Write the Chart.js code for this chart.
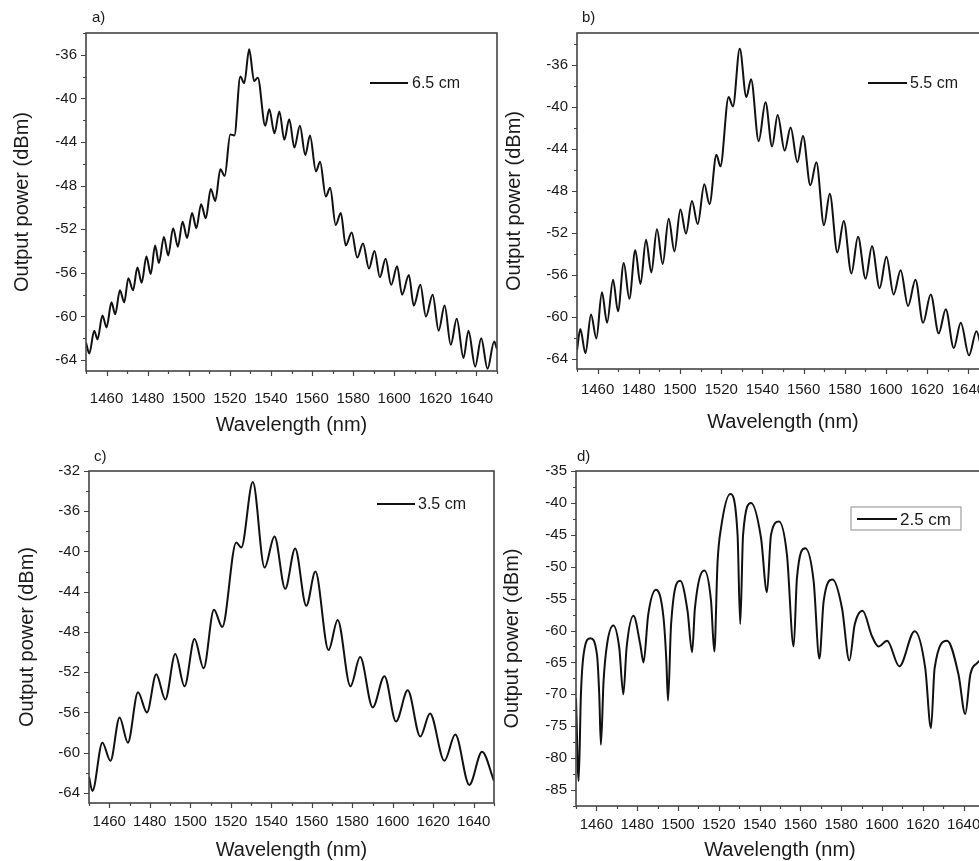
<!DOCTYPE html>
<html>
<head>
<meta charset="utf-8">
<script src="https://cdn.jsdelivr.net/npm/chart.js@4.4.1/dist/chart.umd.min.js"></script>
<style>
  html, body { margin: 0; padding: 0; background: #fff; overflow: hidden; width: 979px; height: 861px; }
  canvas { position: absolute; left: 0; top: 0; }
</style>
</head>
<body>
<canvas id="panelA" width="1000" height="861"></canvas>
<canvas id="panelB" width="1000" height="861"></canvas>
<canvas id="panelC" width="1000" height="861"></canvas>
<canvas id="panelD" width="1000" height="861"></canvas>
<script>
// wavelength (nm) / output power (dBm)
var wlA = [1450.0, 1451.6, 1454.0, 1455.6, 1458.0, 1460.0, 1462.4, 1464.2, 1466.5, 1468.6, 1470.6, 1472.9,
    1475.0, 1477.1, 1479.4, 1481.5, 1483.6, 1485.5, 1487.9, 1490.0, 1492.4, 1494.7, 1497.0, 1499.2,
    1501.6, 1503.7, 1506.0, 1508.3, 1510.7, 1512.9, 1515.4, 1517.5, 1520.2, 1522.2, 1525.1, 1527.0,
    1529.4, 1531.8, 1533.6, 1537.2, 1539.2, 1541.7, 1544.1, 1546.5, 1548.9, 1551.4, 1554.1, 1556.7,
    1559.0, 1561.9, 1563.9, 1566.7, 1568.8, 1571.5, 1574.0, 1576.4, 1579.3, 1582.0, 1584.8, 1587.7,
    1590.4, 1593.0, 1595.8, 1598.5, 1601.4, 1603.8, 1607.1, 1609.5, 1612.7, 1615.4, 1618.7, 1621.6,
    1624.5, 1627.5, 1630.4, 1633.7, 1636.1, 1639.4, 1642.3, 1645.4, 1648.6, 1650.0];
var powA = [-62.4, -63.4, -61.3, -62.1, -59.9, -61.0, -58.7, -59.8, -57.6, -58.7, -56.5, -57.6,
    -55.5, -56.9, -54.5, -56.1, -53.5, -55.1, -52.7, -54.4, -51.9, -53.6, -51.3, -52.8,
    -50.5, -51.9, -49.7, -51.0, -48.3, -49.4, -46.5, -47.1, -43.3, -43.4, -38.0, -38.6,
    -35.5, -38.4, -38.1, -42.5, -41.0, -43.2, -41.2, -43.8, -41.9, -44.5, -42.5, -45.2,
    -43.4, -46.7, -45.8, -49.0, -48.2, -51.6, -50.5, -53.5, -52.3, -54.6, -53.3, -55.6,
    -54.0, -56.4, -54.7, -57.1, -55.4, -58.0, -56.2, -59.0, -57.1, -60.0, -58.0, -61.3,
    -59.0, -62.6, -60.2, -63.8, -61.3, -64.6, -62.0, -64.8, -62.3, -63.0];

var wlB = [1450.0, 1451.6, 1454.1, 1456.8, 1459.4, 1462.1, 1464.6, 1467.5, 1469.9, 1472.7, 1475.4, 1478.3,
    1480.8, 1483.5, 1486.1, 1488.8, 1491.6, 1494.5, 1497.3, 1500.2, 1502.9, 1505.8, 1508.6, 1511.8,
    1514.3, 1517.7, 1519.6, 1523.6, 1525.7, 1529.0, 1532.2, 1534.5, 1538.2, 1541.5, 1544.7, 1547.4,
    1550.8, 1553.7, 1557.0, 1559.7, 1563.3, 1566.2, 1569.9, 1572.7, 1576.4, 1579.5, 1583.2, 1586.4,
    1590.1, 1593.2, 1596.9, 1600.2, 1603.7, 1607.1, 1610.7, 1614.3, 1618.0, 1621.7, 1625.6, 1629.0,
    1632.9, 1636.3, 1640.3, 1643.9, 1647.5, 1650.0];
var powB = [-63.2, -61.2, -63.5, -59.8, -62.1, -57.7, -60.6, -56.5, -59.5, -54.9, -58.3, -53.7,
    -56.9, -52.7, -55.8, -51.7, -55.0, -50.7, -53.8, -49.8, -52.1, -49.0, -51.2, -47.4,
    -49.3, -44.6, -45.7, -39.1, -40.0, -34.5, -39.1, -37.4, -43.3, -39.6, -43.8, -40.8,
    -44.2, -42.0, -45.3, -42.8, -47.5, -45.3, -51.3, -48.3, -53.9, -50.9, -55.9, -52.4,
    -56.4, -53.3, -57.3, -54.3, -57.9, -55.6, -59.0, -56.5, -60.6, -57.9, -61.6, -59.3,
    -63.0, -60.6, -63.7, -61.4, -63.6, -62.5];

var wlC = [1450.0, 1451.7, 1456.6, 1460.6, 1465.1, 1469.2, 1474.2, 1478.6, 1483.2, 1487.7, 1492.6, 1497.2,
    1502.1, 1506.6, 1511.7, 1515.8, 1522.7, 1525.2, 1530.9, 1536.7, 1541.6, 1546.9, 1551.8, 1557.3,
    1561.8, 1568.3, 1572.8, 1579.1, 1583.9, 1590.1, 1595.9, 1601.6, 1607.4, 1613.6, 1618.4, 1625.5,
    1630.9, 1637.8, 1644.1, 1650.0];
var powC = [-62.4, -63.8, -59.0, -60.8, -56.5, -59.0, -54.0, -56.0, -52.2, -54.7, -50.2, -53.4,
    -48.7, -51.6, -45.8, -47.5, -39.1, -39.6, -33.1, -41.6, -38.5, -43.7, -39.7, -45.4,
    -42.0, -49.8, -46.8, -53.4, -50.5, -55.5, -52.4, -56.9, -53.8, -58.4, -56.1, -60.8,
    -58.2, -63.2, -59.9, -62.8];

var wlD = [1450.0, 1451.3, 1452.4, 1453.7, 1457.0, 1460.3, 1461.4, 1462.2, 1463.5, 1465.2, 1468.3, 1471.2,
    1473.2, 1474.8, 1478.2, 1481.5, 1483.1, 1485.4, 1489.2, 1492.9, 1494.3, 1495.1, 1496.6, 1501.1,
    1504.7, 1506.9, 1508.3, 1512.9, 1516.2, 1517.8, 1519.4, 1521.1, 1525.6, 1529.2, 1530.5, 1531.9,
    1535.8, 1540.7, 1543.6, 1545.6, 1549.5, 1553.4, 1556.7, 1558.3, 1562.4, 1566.5, 1569.3, 1571.4,
    1575.8, 1580.4, 1584.0, 1586.6, 1590.5, 1595.1, 1598.3, 1602.5, 1608.5, 1616.0, 1621.2, 1624.0,
    1625.8, 1631.9, 1637.5, 1640.8, 1643.3, 1646.6, 1650.0];
var powD = [-70.6, -83.6, -70.1, -63.8, -61.2, -63.8, -70.1, -77.9, -68.0, -62.2, -59.2, -62.7,
    -70.0, -62.7, -57.7, -62.2, -65.0, -57.5, -53.6, -58.0, -64.8, -71.0, -59.1, -52.2,
    -57.0, -63.4, -56.5, -50.6, -55.4, -63.3, -49.2, -43.9, -38.6, -45.0, -59.0, -45.0,
    -40.0, -45.5, -54.0, -45.0, -42.9, -48.1, -62.5, -51.8, -47.1, -52.3, -64.4, -55.4,
    -52.0, -56.5, -64.7, -59.1, -56.9, -60.9, -62.5, -61.6, -65.6, -60.1, -65.9, -75.3,
    -65.9, -61.6, -66.9, -73.1, -66.9, -65.1, -64.3];

// tick labels
var xLabels = [1460, 1480, 1500, 1520, 1540, 1560, 1580, 1600, 1620, 1640];
var yLabelsA = [-64, -60, -56, -52, -48, -44, -40, -36];
var yLabelsB = [-64, -60, -56, -52, -48, -44, -40, -36];
var yLabelsC = [-64, -60, -56, -52, -48, -44, -40, -36, -32];
var yLabelsD = [-85, -80, -75, -70, -65, -60, -55, -50, -45, -40, -35];

var CW = 1000, CH = 861;
var FONT = "'Liberation Sans', Arial, Helvetica, sans-serif";
var INK = '#1a1a1a';

function stepTicks(min, max, step) {
    var out = [];
    var v = Math.ceil(min / step - 1e-9) * step;
    for (; v <= max + 1e-9; v += step) out.push({ value: Math.round(v * 100) / 100 });
    return out;
}
function inList(v, list) {
    for (var i = 0; i < list.length; i++) if (Math.abs(list[i] - v) < 1e-6) return true;
    return false;
}

// frame, tick marks, legend and panel letter
var decor = {
    id: 'decor',
    afterDraw: function(chart, args, o) {
        var ctx = chart.ctx, a = chart.chartArea;
        var xs = chart.scales.x, ys = chart.scales.y;
        ctx.save();
        ctx.strokeStyle = '#444';
        ctx.lineWidth = 1.6;
        ctx.strokeRect(a.left, a.top, a.right - a.left, a.bottom - a.top);

        ctx.lineWidth = 1.2;
        ctx.beginPath();
        xs.ticks.forEach(function(t) {
            var px = Math.round(xs.getPixelForValue(t.value)) + 0.5;
            var len = inList(t.value, o.xMajor) ? 5 : 3;
            ctx.moveTo(px, a.bottom); ctx.lineTo(px, a.bottom + len);
        });
        ys.ticks.forEach(function(t) {
            var py = Math.round(ys.getPixelForValue(t.value)) + 0.5;
            var len = inList(t.value, o.yMajor) ? 5 : 3;
            ctx.moveTo(a.left, py); ctx.lineTo(a.left - len, py);
        });
        ctx.stroke();

        var lg = o.legend;
        if (lg.box) {
            ctx.fillStyle = '#fff';
            ctx.fillRect(lg.box[0], lg.box[1], lg.box[2], lg.box[3]);
            ctx.strokeStyle = '#a0a0a0';
            ctx.lineWidth = 1.2;
            ctx.strokeRect(lg.box[0], lg.box[1], lg.box[2], lg.box[3]);
        }
        var ds = chart.data.datasets[0];
        ctx.strokeStyle = ds.borderColor;
        ctx.lineWidth = 2;
        ctx.beginPath();
        ctx.moveTo(lg.x1, lg.y); ctx.lineTo(lg.x2, lg.y);
        ctx.stroke();
        ctx.fillStyle = INK;
        ctx.font = lg.size + 'px ' + FONT;
        ctx.textAlign = 'left';
        ctx.textBaseline = 'middle';
        ctx.fillText(ds.label, lg.tx, lg.y + 1);

        ctx.font = '15px ' + FONT;
        ctx.fillText(o.letter, o.letterX, o.letterY);
        ctx.restore();
    }
};

var panels = [
    { id: 'panelA', letter: 'a)', label: '6.5 cm', wl: wlA, pw: powA, yMin: -65, yMax: -34, yStep: 2, yMajor: yLabelsA,
      area: [86, 33, 497, 371], xPad: 14, yTitleX: 22, xTitleY: 425, letterX: 92, letterY: 18,
      legend: { x1: 370, x2: 408, y: 83, tx: 412, size: 16 } },
    { id: 'panelB', letter: 'b)', label: '5.5 cm', wl: wlB, pw: powB, yMin: -65, yMax: -33, yStep: 2, yMajor: yLabelsB,
      area: [577, 33, 989, 369], xPad: 7, yTitleX: 514, xTitleY: 422, letterX: 582, letterY: 18,
      legend: { x1: 868, x2: 907, y: 83, tx: 910, size: 16 } },
    { id: 'panelC', letter: 'c)', label: '3.5 cm', wl: wlC, pw: powC, yMin: -65, yMax: -32, yStep: 2, yMajor: yLabelsC,
      area: [89, 471, 494, 803], xPad: 5, yTitleX: 27, xTitleY: 850, letterX: 94, letterY: 457,
      legend: { x1: 377, x2: 415, y: 504, tx: 418, size: 16 } },
    { id: 'panelD', letter: 'd)', label: '2.5 cm', wl: wlD, pw: powD, yMin: -87.5, yMax: -35, yStep: 2.5, yMajor: yLabelsD,
      area: [576, 471, 984, 806], xPad: 5, yTitleX: 512, xTitleY: 850, letterX: 577, letterY: 457,
      legend: { x1: 857, x2: 897, y: 519, tx: 900, size: 17, box: [851, 507, 110, 23] } }
];

panels.forEach(function(p) {
    var L = p.area[0], T = p.area[1], R = p.area[2], B = p.area[3];
    var yW = 80, xH = 70;
    var xTitleSize = 20, yTitleSize = 20;

    new Chart(document.getElementById(p.id), {
        type: 'line',
        data: {
            datasets: [{
                label: p.label,
                data: p.wl.map(function(w, i) { return { x: w, y: p.pw[i] }; }),
                borderColor: '#111',
                borderWidth: 2,
                pointRadius: 0,
                fill: false,
                cubicInterpolationMode: 'monotone'
            }]
        },
        options: {
            responsive: false,
            animation: false,
            devicePixelRatio: 1,
            layout: { padding: { left: L - yW, top: T, right: CW - R, bottom: CH - B - xH } },
            plugins: {
                legend: { display: false },
                tooltip: { enabled: false },
                decor: { xMajor: xLabels, yMajor: p.yMajor, legend: p.legend, letter: p.letter,
                         letterX: p.letterX, letterY: p.letterY }
            },
            scales: {
                x: {
                    type: 'linear',
                    min: 1450,
                    max: 1650,
                    afterBuildTicks: function(s) { s.ticks = stepTicks(1450, 1650, 10); },
                    afterFit: function(s) { s.height = xH; },
                    grid: { display: false, drawTicks: true, tickLength: 5 },
                    border: { display: false },
                    ticks: {
                        autoSkip: false, maxRotation: 0, padding: p.xPad, color: INK,
                        font: { family: FONT, size: 15 },
                        callback: function(v) { return inList(v, xLabels) ? String(v) : ''; }
                    },
                    title: {
                        display: true, text: 'Wavelength (nm)', color: INK,
                        font: { family: FONT, size: xTitleSize },
                        padding: { top: 0, bottom: B + xH - xTitleSize * 0.6 - p.xTitleY }
                    }
                },
                y: {
                    type: 'linear',
                    min: p.yMin,
                    max: p.yMax,
                    afterBuildTicks: function(s) { s.ticks = stepTicks(p.yMin, p.yMax, p.yStep); },
                    afterFit: function(s) { s.width = yW; },
                    grid: { display: false, drawTicks: true, tickLength: 5 },
                    border: { display: false },
                    ticks: {
                        autoSkip: false, padding: 4, color: INK,
                        font: { family: FONT, size: 15 },
                        callback: function(v) { return inList(v, p.yMajor) ? String(v) : ''; }
                    },
                    title: {
                        display: true, text: 'Output power (dBm)', color: INK,
                        font: { family: FONT, size: yTitleSize },
                        padding: { top: p.yTitleX - (L - yW) - yTitleSize * 0.6, bottom: 0 }
                    }
                }
            }
        },
        plugins: [decor]
    });
});
</script>
</body>
</html>
